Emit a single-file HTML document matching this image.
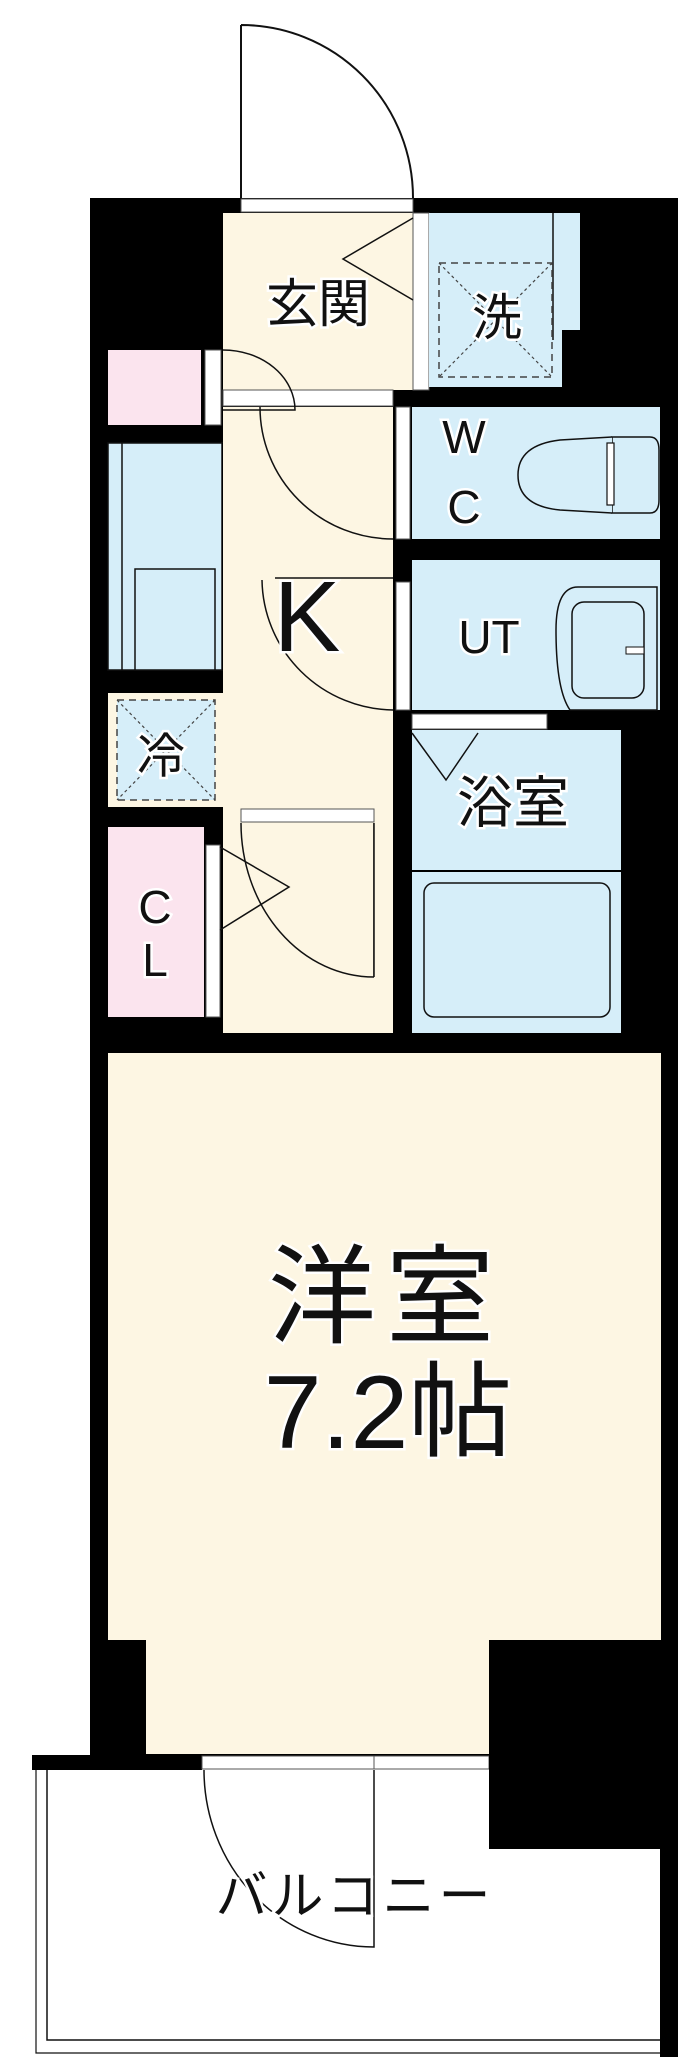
<!DOCTYPE html>
<html><head><meta charset="utf-8"><style>
html,body{margin:0;padding:0;background:#fff;}
svg{display:block;}
text{font-family:"Liberation Sans","Noto Sans CJK JP",sans-serif;fill:#111;text-anchor:middle;dominant-baseline:central;paint-order:stroke;stroke:#fff;stroke-width:5px;}
</style></head><body>
<svg width="700" height="2068" viewBox="0 0 700 2068" xmlns="http://www.w3.org/2000/svg">
<!-- entry door -->
<path d="M241 25 L241 198 M241 25 A172 173 0 0 1 413 198" fill="none" stroke="#111" stroke-width="2"/>
<!-- main black building mass -->
<rect x="90" y="198" width="588" height="1560" fill="#000"/>
<rect x="660" y="1750" width="18" height="307" fill="#000"/>
<!-- threshold entry -->
<rect x="241" y="199" width="172" height="13" fill="#fff" stroke="#555" stroke-width="1"/>
<!-- genkan -->
<rect x="223" y="213" width="190" height="177" fill="#fdf6e3"/>
<rect x="413" y="213" width="16" height="177" fill="#fff" stroke="#555" stroke-width="1"/>
<path d="M413 218 L343 259 L413 300" fill="none" stroke="#111" stroke-width="1.5"/>
<!-- wash -->
<path d="M429 213 H580 V330 H562 V387 H429 Z" fill="#d6eef9"/>
<line x1="553" y1="213" x2="553" y2="340" stroke="#111" stroke-width="1.5"/>
<rect x="439" y="263" width="113" height="114" fill="none" stroke="#444" stroke-width="1.5" stroke-dasharray="7 5"/>
<path d="M439 263 L552 377 M552 263 L439 377" stroke="#444" stroke-width="1.2" stroke-dasharray="3 3"/>
<!-- pink box -->
<rect x="108" y="350" width="93" height="75" fill="#fbe4ee"/>
<rect x="205" y="350" width="16" height="75" fill="#fff" stroke="#555" stroke-width="1"/>
<!-- hall threshold -->
<rect x="223" y="390" width="170" height="16" fill="#fff" stroke="#555" stroke-width="1"/>
<!-- kitchen -->
<rect x="223" y="407" width="170" height="626" fill="#fdf6e3"/>
<path d="M223 350 A72 60 0 0 1 295 410 L223 410" fill="none" stroke="#111" stroke-width="1.5"/>
<path d="M260 407 A133 132 0 0 0 393 539" fill="none" stroke="#111" stroke-width="1.5"/>
<path d="M393 578 L275 578 M262 580 A133 132 0 0 0 393 710" fill="none" stroke="#111" stroke-width="1.5"/>
<!-- fridge unit -->
<rect x="108" y="443" width="114" height="227" fill="#d6eef9" stroke="#111" stroke-width="1.5"/>
<line x1="122" y1="443" x2="122" y2="670" stroke="#111" stroke-width="1.5"/>
<rect x="135" y="569" width="80" height="101" fill="#d6eef9" stroke="#111" stroke-width="1.5"/>
<rect x="222" y="443" width="1" height="227" fill="#000"/>
<!-- rei -->
<rect x="108" y="693" width="115" height="114" fill="#fdf6e3"/>
<rect x="117" y="700" width="98" height="100" fill="#d6eef9" stroke="#444" stroke-width="1.5" stroke-dasharray="7 5"/>
<path d="M117 700 L215 800 M215 700 L117 800" stroke="#444" stroke-width="1.2" stroke-dasharray="3 3"/>
<!-- bedroom threshold -->
<rect x="241" y="809" width="133" height="13" fill="#fff" stroke="#555" stroke-width="1"/>
<!-- CL -->
<rect x="108" y="827" width="96" height="190" fill="#fbe4ee"/>
<rect x="206" y="845" width="14" height="172" fill="#fff" stroke="#555" stroke-width="1"/>
<path d="M220 847 L289 887 L220 930" fill="none" stroke="#111" stroke-width="1.5"/>
<path d="M241 823 A133 154 0 0 0 374 977 L374 823" fill="none" stroke="#111" stroke-width="1.5"/>
<rect x="374" y="823" width="19" height="210" fill="#fdf6e3"/>
<path d="M374 823 L374 977" stroke="#111" stroke-width="1.5"/>
<!-- WC -->
<rect x="412" y="407" width="248" height="132" fill="#d6eef9"/>
<rect x="396" y="407" width="14" height="132" fill="#fff" stroke="#555" stroke-width="1"/>
<path d="M612 437 H650 Q659 437 659 450 V500 Q659 513 650 513 H612 Z" fill="#d6eef9" stroke="#111" stroke-width="1.5"/>
<path d="M612 437 L560 440 Q518 445 518 475 Q518 506 560 510 L612 513" fill="#d6eef9" stroke="#111" stroke-width="1.5"/>
<rect x="607" y="443" width="7" height="62" fill="#fff" stroke="#111" stroke-width="1.2"/>
<!-- UT -->
<rect x="412" y="560" width="248" height="150" fill="#d6eef9"/>
<rect x="396" y="582" width="14" height="128" fill="#fff" stroke="#555" stroke-width="1"/>
<path d="M657 587 H578 Q556 587 556 630 Q556 690 570 710 H657 Z" fill="#d6eef9" stroke="#111" stroke-width="1.5"/>
<rect x="572" y="602" width="72" height="96" rx="12" fill="#d6eef9" stroke="#111" stroke-width="1.5"/>
<rect x="626" y="647" width="18" height="7" fill="#fff" stroke="#111" stroke-width="1"/>
<!-- bath -->
<rect x="412" y="714" width="135" height="15" fill="#fff" stroke="#555" stroke-width="1"/>
<rect x="412" y="730" width="209" height="140" fill="#d6eef9"/>
<rect x="412" y="872" width="209" height="161" fill="#d6eef9"/>
<path d="M412 733 L446 780 L478 733" fill="none" stroke="#111" stroke-width="1.5"/>
<rect x="424" y="883" width="186" height="134" rx="10" fill="#d6eef9" stroke="#111" stroke-width="1.5"/>
<!-- bedroom -->
<rect x="108" y="1053" width="553" height="587" fill="#fdf6e3"/>
<rect x="146" y="1640" width="343" height="114" fill="#fdf6e3"/>
<rect x="489" y="1640" width="189" height="209" fill="#000"/>
<!-- balcony -->
<rect x="32" y="1755" width="170" height="15" fill="#000"/>
<rect x="202" y="1756" width="287" height="13" fill="#fff" stroke="#555" stroke-width="1"/>
<line x1="374" y1="1756" x2="374" y2="1769" stroke="#555" stroke-width="1"/>
<rect x="32" y="1770" width="628" height="290" fill="#fff"/>
<rect x="489" y="1640" width="189" height="209" fill="#000"/>
<path d="M47 1770 V2040 H661" fill="none" stroke="#111" stroke-width="1.5"/>
<path d="M36 1770 V2053 H661" fill="none" stroke="#111" stroke-width="1.2"/>
<rect x="660" y="1849" width="18" height="208" fill="#000"/>
<path d="M204 1770 A170 177 0 0 0 374 1947 L374 1770" fill="none" stroke="#111" stroke-width="1.5"/>
<!-- labels -->
<text x="318" y="305" font-size="52">玄関</text>
<text x="497" y="318" font-size="50">洗</text>
<text x="464" y="437" font-size="46">W</text>
<text x="464" y="507" font-size="46">C</text>
<text x="307" y="617" font-size="100">K</text>
<text x="489" y="637" font-size="46">UT</text>
<text x="513" y="803" font-size="56">浴室</text>
<text x="161" y="757" font-size="48">冷</text>
<text x="155" y="907" font-size="46">C</text>
<text x="155" y="960" font-size="46">L</text>
<text x="386" y="1297" font-size="108" letter-spacing="10">洋室</text>
<text x="388" y="1413" font-size="104">7.2帖</text>
<text x="355" y="1897" font-size="52" letter-spacing="4">バルコニー</text>
</svg>
</body></html>
